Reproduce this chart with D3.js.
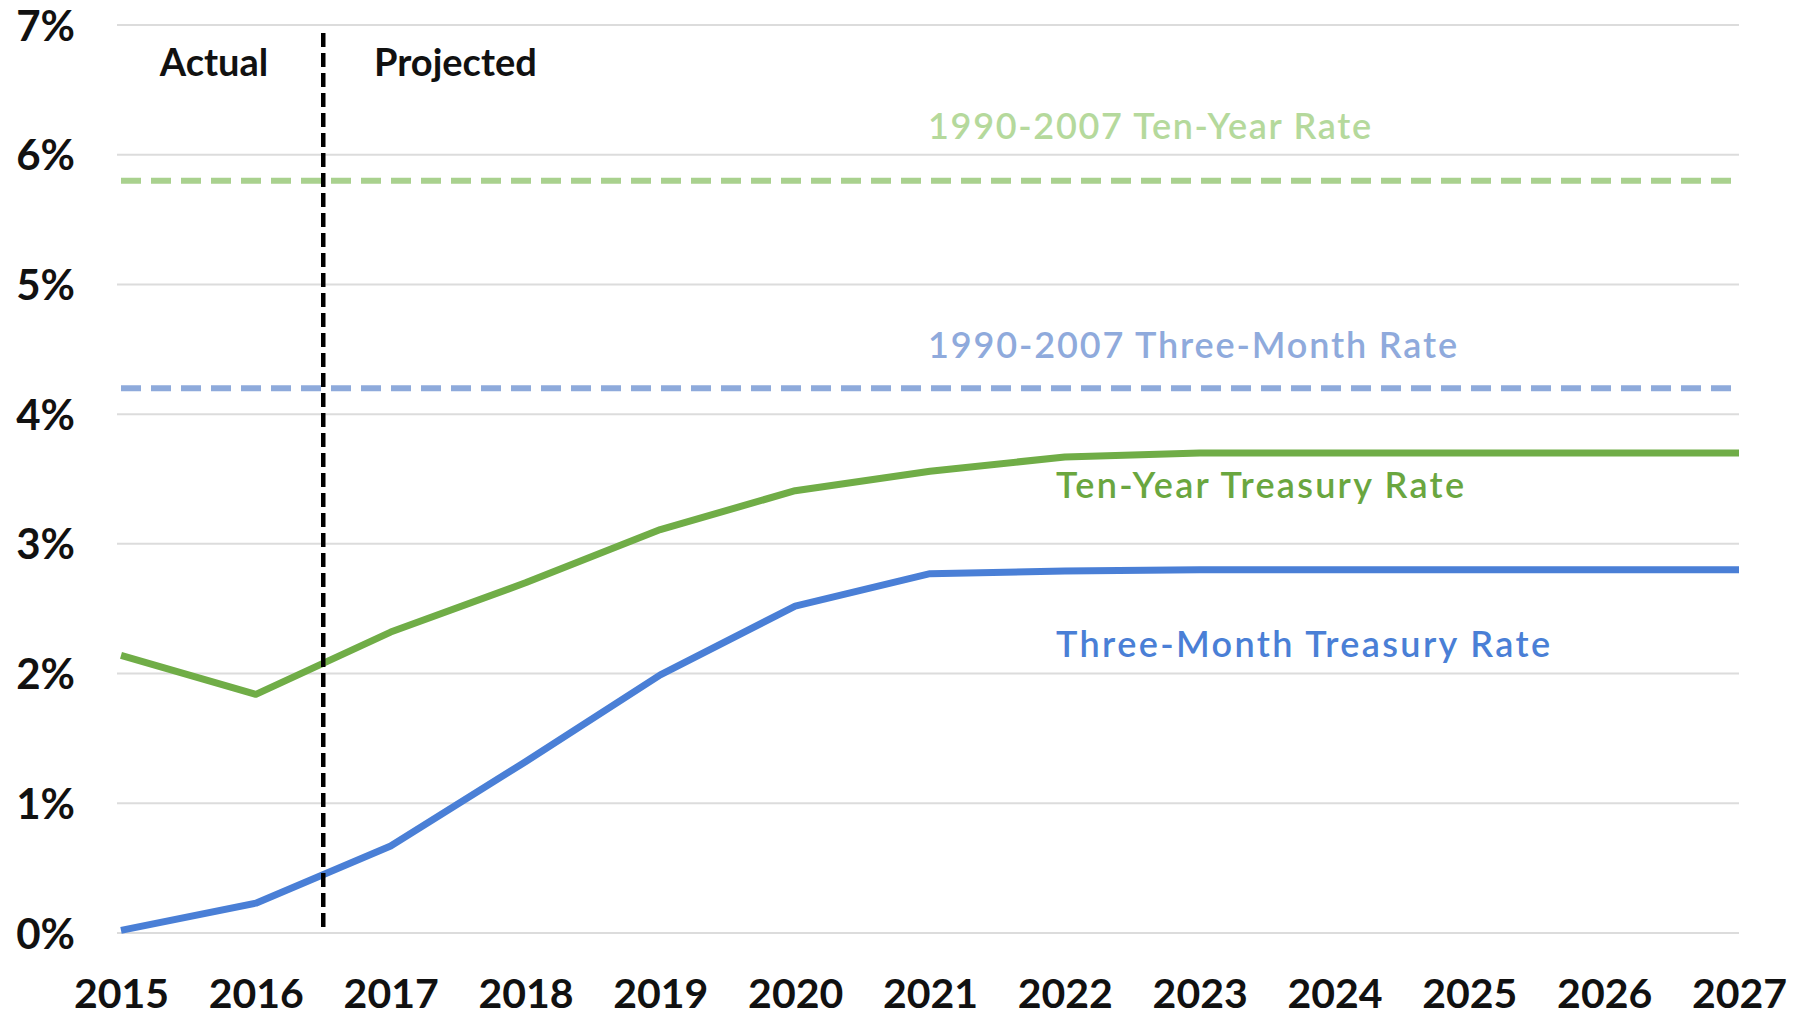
<!DOCTYPE html>
<html>
<head>
<meta charset="utf-8">
<script src="https://cdn.jsdelivr.net/npm/d3@7"></script>
<style>
  html, body { margin: 0; padding: 0; background: #ffffff; }
  svg { display: block; }
  text { font-family: Lato, "Open Sans", sans-serif; }
</style>
</head>
<body>
<svg id="chart" width="1806" height="1018"></svg>
<script>
// Years on the horizontal axis
const years = [2015, 2016, 2017, 2018, 2019, 2020, 2021, 2022, 2023, 2024, 2025, 2026, 2027];
// Ten-year Treasury rate, percent
const tenYear = [2.14, 1.84, 2.32, 2.70, 3.11, 3.41, 3.56, 3.67, 3.70, 3.70, 3.70, 3.70, 3.70];
// Three-month Treasury rate, percent
const threeMonth = [0.02, 0.23, 0.67, 1.32, 1.99, 2.52, 2.77, 2.79, 2.80, 2.80, 2.80, 2.80, 2.80];
// 1990-2007 historical averages, percent
const avgTenYear = 5.8;
const avgThreeMonth = 4.2;
// Boundary between actual and projected values
const splitYear = 2016.5;
// Y-axis ticks, percent
const yTicks = [0, 1, 2, 3, 4, 5, 6, 7];

const svg = d3.select("#chart");

const x = d3.scaleLinear().domain([2015, 2027]).range([121, 1739]);
const y = d3.scaleLinear().domain([0, 7]).range([933, 25]);

// Horizontal gridlines
svg.append("g")
  .selectAll("line")
  .data(yTicks)
  .join("line")
  .attr("x1", x(2015) - 4)
  .attr("x2", x(2027))
  .attr("y1", d => y(d))
  .attr("y2", d => y(d))
  .attr("stroke", "#dcdcdc")
  .attr("stroke-width", 2);

// Y axis labels
const yAxis = d3.axisLeft(y)
  .tickValues(yTicks)
  .tickFormat(d => d + "%")
  .tickSize(0)
  .tickPadding(0);
const gy = svg.append("g").attr("transform", "translate(75,0)").call(yAxis);
gy.select(".domain").remove();
gy.selectAll("text")
  .attr("font-family", "Lato, sans-serif")
  .attr("font-weight", "bold")
  .attr("font-size", 42)
  .attr("fill", "#111")
  .attr("dy", "0.36em");

// X axis labels
const xAxis = d3.axisBottom(x)
  .tickValues(years)
  .tickFormat(d3.format("d"))
  .tickSize(0)
  .tickPadding(0);
const gx = svg.append("g").attr("transform", "translate(0,1008)").call(xAxis);
gx.select(".domain").remove();
gx.selectAll("text")
  .attr("font-family", "Lato, sans-serif")
  .attr("font-weight", "bold")
  .attr("font-size", 41)
  .attr("fill", "#111")
  .attr("dy", 0);

// Historical average reference lines
svg.append("line")
  .attr("x1", x(2015)).attr("x2", x(2027))
  .attr("y1", y(avgTenYear)).attr("y2", y(avgTenYear))
  .attr("stroke", "#a9d18e").attr("stroke-width", 6)
  .attr("stroke-dasharray", "20,10");

svg.append("line")
  .attr("x1", x(2015)).attr("x2", x(2027))
  .attr("y1", y(avgThreeMonth)).attr("y2", y(avgThreeMonth))
  .attr("stroke", "#8eaadb").attr("stroke-width", 6)
  .attr("stroke-dasharray", "20,10");

// Rate lines
const line = d3.line()
  .x((d, i) => x(years[i]))
  .y(d => y(d));

svg.append("path")
  .datum(tenYear)
  .attr("d", line)
  .attr("fill", "none")
  .attr("stroke", "#70ad47")
  .attr("stroke-width", 7)
  .attr("stroke-linejoin", "round");

svg.append("path")
  .datum(threeMonth)
  .attr("d", line)
  .attr("fill", "none")
  .attr("stroke", "#4a7fd6")
  .attr("stroke-width", 7)
  .attr("stroke-linejoin", "round");

// Actual / projected divider
svg.append("line")
  .attr("x1", x(splitYear)).attr("x2", x(splitYear))
  .attr("y1", 33).attr("y2", y(0))
  .attr("stroke", "#000").attr("stroke-width", 4.5)
  .attr("stroke-dasharray", "14,6");

// Section labels
svg.append("text")
  .attr("x", 214).attr("y", 76)
  .attr("text-anchor", "middle")
  .attr("font-weight", "bold").attr("font-size", 38).attr("fill", "#111")
  .text("Actual");
svg.append("text")
  .attr("x", 374).attr("y", 76)
  .attr("font-weight", "bold").attr("font-size", 38).attr("fill", "#111")
  .text("Projected");

// Series labels
const labels = [
  { text: "1990-2007 Ten-Year Rate", x: 928, y: 139, w: 443, color: "#b5d99c" },
  { text: "1990-2007 Three-Month Rate", x: 928, y: 358, w: 529, color: "#8faadc" },
  { text: "Ten-Year Treasury Rate", x: 1056, y: 498, w: 408, color: "#6aa63f" },
  { text: "Three-Month Treasury Rate", x: 1056, y: 657, w: 494, color: "#4a7fd6" }
];
svg.append("g")
  .selectAll("text")
  .data(labels)
  .join("text")
  .attr("x", d => d.x)
  .attr("y", d => d.y)
  .attr("font-size", 36)
  .attr("font-weight", 600)
  .attr("fill", d => d.color)
  .attr("textLength", d => d.w)
  .attr("lengthAdjust", "spacing")
  .text(d => d.text);
</script>
</body>
</html>
